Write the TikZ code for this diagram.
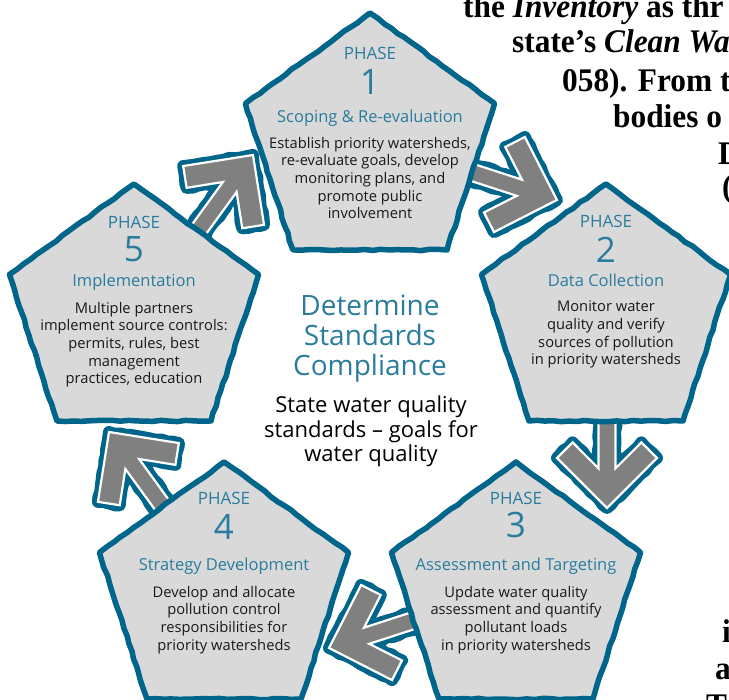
\documentclass[tikz,border=0pt]{standalone}
\usepackage{fontspec}
\setmainfont{Open Sans}
\newfontfamily\pageserif[FakeStretch=0.95]{Liberation Serif}
\usetikzlibrary{shapes.geometric,decorations.pathmorphing}
\definecolor{tealline}{RGB}{0,101,138}
\definecolor{tealtext}{RGB}{42,124,158}
\definecolor{phasegray}{RGB}{217,217,217}
\definecolor{arrowgray}{RGB}{128,128,128}
\definecolor{bodyblack}{RGB}{25,25,25}

\begin{document}
\pgfmathsetseed{7}
\begin{tikzpicture}[x=1pt,y=1pt,
    phase/.style={regular polygon, regular polygon sides=5, minimum size=262pt, inner sep=0pt,
      draw=tealline, fill=phasegray, line width=5.5pt, line join=round,
      decorate, decoration={random steps, segment length=8pt, amplitude=0.7pt}},
    arrowrim/.style={draw=tealline, fill=tealline, line width=12pt, line join=round,
      decorate, decoration={random steps, segment length=6pt, amplitude=0.9pt}},
    arrowbody/.style={draw=white, fill=arrowgray, line width=2.2pt, line join=miter},
    pics/flowarrow/.style={code={
        \draw[arrowrim] (0,0) -- (-50,50) -- (-65.6,34.4) -- (-39.6,8.5) -- (-112,8.5)
          -- (-112,-8.5) -- (-39.6,-8.5) -- (-65.6,-34.4) -- (-50,-50) -- cycle;
        \draw[arrowbody] (0,0) -- (-50,50) -- (-65.6,34.4) -- (-39.6,8.5) -- (-112,8.5)
          -- (-112,-8.5) -- (-39.6,-8.5) -- (-65.6,-34.4) -- (-50,-50) -- cycle;
    }},
    phasehead/.style={text=tealtext, font=\fontsize{17}{19}\selectfont, anchor=base, inner sep=0pt},
    phasenum/.style={text=tealtext, font=\fontsize{35}{40}\selectfont, anchor=base, inner sep=0pt},
    phasetitle/.style={text=tealtext, font=\fontsize{16.5}{18}\selectfont, anchor=base, inner sep=0pt},
    phasebody/.style={text=bodyblack, font=\fontsize{14.7}{17.6}\selectfont, align=center, anchor=north, inner sep=0pt},
    pagetext/.style={font=\fontsize{33}{36}\pageserif\bfseries, anchor=base west, inner sep=0pt}
  ]
  \path[use as bounding box] (0,0) rectangle (729,700);
  \clip (0,0) rectangle (729,700);

  % text of the page around the figure
  \node[pagetext] (page1) at (463,682) {the \textit{Inventory} as thr};
  \node[pagetext] (page2) at (512,647) {state’s \textit{Clean Wat}};
  \node[pagetext] (page3) at (562,608) {058). From th};
  \node[pagetext] (page4) at (613,572) {bodies o};
  \node[pagetext] (page5) at (718,535) {D};
  \node[pagetext] (page6) at (722,502) {(};
  \node[pagetext] (page7) at (722,57) {i};
  \node[pagetext] (page8) at (715,20) {a};
  \node[pagetext] (page9) at (706,-17) {T};

  % arrows between the phases
  \coordinate (a12) at (557,500);
  \coordinate (a23) at (607,192);
  \coordinate (a34) at (329,52);
  \coordinate (a45) at (109,268);
  \coordinate (a51) at (253,545);
  \pic[rotate=-18] at (a12) {flowarrow};
  \pic[rotate=-90] at (a23) {flowarrow};
  \pic[rotate=198] at (a34) {flowarrow};
  \pic[rotate=126] at (a45) {flowarrow};
  \pic[rotate=54] at (a51) {flowarrow};

  % phase 1
  \node[phase] (p1) at (370,556) {};
  \node[phasehead] (p1-head) at ([yshift=84]p1.center) {PHASE};
  \node[phasenum] (p1-num) at ([yshift=49]p1.center) {1};
  \node[phasetitle] (p1-title) at ([yshift=21]p1.center) {Scoping \& Re-evaluation};
  \node[phasebody] (p1-body) at ([yshift=7]p1.center) {Establish priority watersheds,\\re-evaluate goals, develop\\monitoring plans, and\\promote public\\involvement};

  % phase 2
  \node[phase] (p2) at (606,385) {};
  \node[phasehead] (p2-head) at ([yshift=87]p2.center) {PHASE};
  \node[phasenum] (p2-num) at ([yshift=52]p2.center) {2};
  \node[phasetitle] (p2-title) at ([yshift=28]p2.center) {Data Collection};
  \node[phasebody] (p2-body) at ([yshift=14]p2.center) {Monitor water\\quality and verify\\sources of pollution\\in priority watersheds};

  % phase 3
  \node[phase] (p3) at (516,107) {};
  \node[phasehead] (p3-head) at ([yshift=88]p3.center) {PHASE};
  \node[phasenum] (p3-num) at ([yshift=55]p3.center) {3};
  \node[phasetitle] (p3-title) at ([yshift=22]p3.center) {Assessment and Targeting};
  \node[phasebody] (p3-body) at ([yshift=7]p3.center) {Update water quality\\assessment and quantify\\pollutant loads\\in priority watersheds};

  % phase 4
  \node[phase] (p4) at (224,107) {};
  \node[phasehead] (p4-head) at ([yshift=88]p4.center) {PHASE};
  \node[phasenum] (p4-num) at ([yshift=53]p4.center) {4};
  \node[phasetitle] (p4-title) at ([yshift=22]p4.center) {Strategy Development};
  \node[phasebody] (p4-body) at ([yshift=7]p4.center) {Develop and allocate\\pollution control\\responsibilities for\\priority watersheds};

  % phase 5
  \node[phase] (p5) at (134,385) {};
  \node[phasehead] (p5-head) at ([yshift=86]p5.center) {PHASE};
  \node[phasenum] (p5-num) at ([yshift=53]p5.center) {5};
  \node[phasetitle] (p5-title) at ([yshift=28]p5.center) {Implementation};
  \node[phasebody] (p5-body) at ([yshift=13]p5.center) {Multiple partners\\implement source controls:\\permits, rules, best\\management\\practices, education};

  % centre of the cycle
  \node[text=tealtext, font=\fontsize{28}{30}\selectfont, align=center, anchor=north, inner sep=0pt] (goal) at (370,405) {Determine\\Standards\\Compliance};
  \node[text=black, font=\fontsize{22}{24.5}\selectfont, align=center, anchor=north, inner sep=0pt] (goal-text) at (371,304) {State water quality\\standards -- goals for\\water quality};
\end{tikzpicture}
\end{document}
